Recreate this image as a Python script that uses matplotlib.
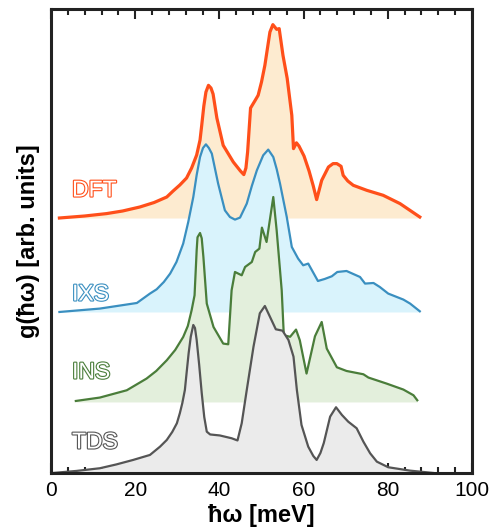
import numpy as np
import matplotlib
matplotlib.use("Agg")
import matplotlib.pyplot as plt
import matplotlib.patheffects as pe
from matplotlib.ticker import MultipleLocator

plt.rcParams['font.family'] = ['Liberation Sans', 'DejaVu Sans']

# phonon DOS curves (x in meV, g in arb. units above each baseline)
dft_x = [2.0, 8.0, 13.2, 17.0, 21.1, 24.5, 27.5, 29.0, 30.6, 32.2, 33.4, 34.6, 35.4, 35.8, 36.3, 36.8, 37.4,
         38.0, 38.5, 39.4, 40.9, 43.3, 45.0, 45.8, 46.3, 46.7, 47.4, 48.5, 49.2, 50.0, 50.8, 52.0, 52.7,
         53.6, 54.2, 55.1, 56.1, 57.2, 57.6, 58.3, 58.9, 60.1, 61.3, 62.3, 63.1, 63.7, 64.3, 65.9,
         67.0, 67.9, 68.9, 69.4, 70.5, 71.8, 75.0, 78.9, 82.9, 87.6]
dft_g = [0, 2.0, 4.4, 7.0, 11, 15.5, 21, 27, 33, 40, 50, 63, 78, 92.7, 112, 126, 132.7,
         130, 124, 100, 72.7, 56, 47, 43.4, 50, 66, 110, 117.7, 122.7, 136, 152.7, 186, 193.4,
         188.7, 189.4, 162.7, 139.7, 102.7, 69.4, 75.2, 72, 62, 47, 32, 18.4, 28, 37.7, 51,
         54.4, 54.4, 51.7, 42.7, 37, 32.7, 27.7, 22.7, 14.4, 1]

ixs_x = [2.0, 11.6, 20.4, 23.5, 25.1, 26.8, 28.3, 29.8, 31.4, 32.6, 33.8, 34.6, 35.4, 36.1, 36.8, 37.5,
         38.2, 39.7, 41.3, 42.5, 43.7, 44.9, 46.5, 47.7, 48.9, 50.4, 51.6, 52.8, 53.6, 54.4, 56.0, 57.2,
         58.7, 59.9, 61.1, 63.4, 65.0, 66.7, 68.0, 70.2, 73.4, 74.6, 76.6, 78.1, 80.1, 83.7, 85.3, 87.6]
ixs_g = [0, 3.4, 9, 18.4, 22.7, 30, 38.4, 50, 68.4, 90, 115, 137, 155, 164, 167.7, 164,
         158.4, 128.4, 101.7, 95, 92.4, 94.4, 108.4, 126, 141.7, 156.7, 162.4, 155, 143, 128.4, 95, 65,
         53.4, 46.7, 48.4, 31, 33, 35.7, 40, 41, 35, 28.4, 29, 25, 18.4, 12.4, 8.4, 0.7]

ins_x = [5.9, 11.6, 18.0, 22.7, 25.0, 27.5, 29.5, 31.4, 32.5, 33.4, 34.1, 34.6, 34.8, 35.4, 35.8, 36.2,
         37.0, 38.6, 40.9, 42.1, 42.9, 43.7, 45.3, 46.1, 47.7, 48.5, 49.5, 50.1, 51.2, 52.8, 53.6,
         54.8, 55.3, 56.8, 58.2, 59.1, 60.7, 62.7, 64.3, 65.5, 67.9, 70.2, 74.2, 75.4, 79.7, 83.7,
         86.1, 87.0]
ins_g = [1, 4.4, 11.7, 23.4, 31, 41.7, 52, 65, 76, 91.7, 106.7, 151.7, 164.7, 169, 163.7, 145,
         98.4, 75, 58.4, 57.7, 111.7, 130, 126.7, 135, 140, 150, 153.4, 174.4, 160, 205, 171.7,
         111.7, 66.7, 65.2, 72.4, 61.7, 28.4, 65.7, 80, 53.4, 34.7, 31, 27.7, 24.4, 18.4, 12.4,
         6.7, 1.7]

tds_x = [0.5, 6.0, 11.6, 15.5, 19.5, 23.5, 25.9, 27.5, 28.8, 29.9, 30.6, 31.2, 31.8, 32.2, 32.7, 33.2,
         33.8, 34.2, 34.6, 35.2, 35.8, 36.4, 37.0, 37.8, 40.1, 42.9, 44.3, 45.3, 46.5, 48.1, 49.6,
         50.8, 52.0, 53.4, 55.0, 56.4, 57.6, 58.4, 59.5, 61.1, 62.3, 63.1, 64.0, 64.8, 66.3, 67.7,
         69.1, 70.6, 72.6, 74.2, 75.8, 77.4, 80.1, 85.3, 90.8]
tds_g = [0, 2.0, 4.7, 8.5, 13, 18, 26.3, 33, 41, 49.7, 59.7, 70, 83, 99.7, 120, 136.3,
         148, 145, 133, 108, 80, 56, 41.3, 38.5, 37.5, 34.7, 32.5, 49.7, 83, 126.3, 159.7,
         167, 156.3, 143.7, 142.3, 133, 116.3, 83, 48, 26.3, 17, 13, 20, 30, 56.3, 65.7,
         58, 51.3, 44.7, 31.3, 19.7, 11.3, 5.7, 2.3, 0]

labels = ['TDS', 'INS', 'IXS', 'DFT']
offsets = [0, 71, 161, 255]
line_colors = ['#555555', '#4a7d3a', '#3a8fc0', '#ff4f1a']
fill_colors = ['#ebebeb', '#e3efdc', '#d9f3fc', '#fdebd0']
label_y = [31, 101, 179, 283]
lws = [1.6, 1.6, 1.6, 2.3]

curves = [(tds_x, tds_g), (ins_x, ins_g), (ixs_x, ixs_g), (dft_x, dft_g)]

fig = plt.figure(figsize=(5.0, 5.32), dpi=100)
ax = fig.add_axes([0.102, 0.111, 0.842, 0.872])

for i, (x, g) in enumerate(curves):
    x = np.array(x)
    y = np.array(g) + offsets[i]
    z = (3 - i) * 2
    ax.fill_between(x, offsets[i], y, color=fill_colors[i], lw=0, zorder=z)
    ax.plot(x, y, color=line_colors[i], lw=lws[i], zorder=z + 1, solid_joinstyle='round')
    ax.text(5, label_y[i], labels[i], fontsize=16.5, color='white', va='center', ha='left',
            zorder=20,
            path_effects=[pe.Stroke(linewidth=1.6, foreground=line_colors[i]), pe.Normal()])

ax.set_xlim(0, 100)
ax.set_ylim(0, 464)
ax.set_yticks([])
ax.xaxis.set_major_locator(MultipleLocator(20))
ax.xaxis.set_minor_locator(MultipleLocator(4))
ax.tick_params(axis='x', which='both', direction='in', top=True, width=1.5, color='#222222',
               labelsize=15, pad=6)
ax.tick_params(axis='x', which='major', length=7)
ax.tick_params(axis='x', which='minor', length=4)
for s in ax.spines.values():
    s.set_linewidth(2.2)
    s.set_color('#222222')
    s.set_zorder(30)

ax.set_xlabel('ħω [meV]', fontsize=17, fontweight='bold', labelpad=3)
ax.set_ylabel('g(ħω) [arb. units]', fontsize=17, fontweight='bold', labelpad=8)

fig.savefig('out.png', dpi=100)
